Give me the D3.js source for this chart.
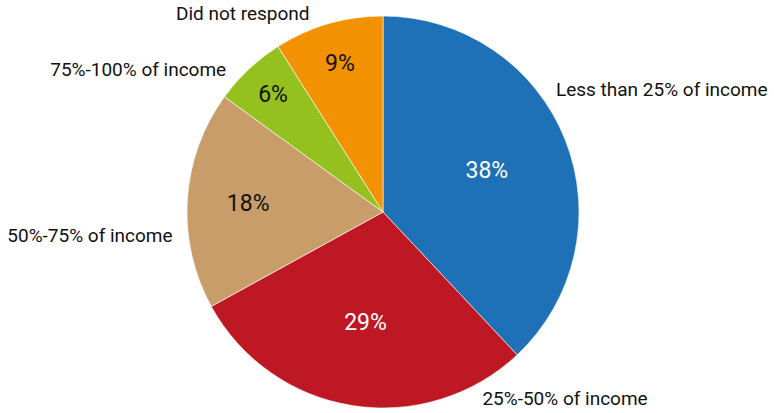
<!DOCTYPE html>
<html>
<head>
<meta charset="utf-8">
<script src="https://cdn.jsdelivr.net/npm/d3@7"></script>
<style>
  html, body { margin: 0; padding: 0; background: #fff; }
  svg { display: block; }
  text { font-family: Roboto, "Noto Sans", sans-serif; }
</style>
</head>
<body>
<svg id="chart" width="774" height="413"></svg>
<script>
// Data
const categories = ["Less than 25% of income", "25%-50% of income", "50%-75% of income", "75%-100% of income", "Did not respond"];
const values = [38, 29, 18, 6, 9];
const colors = ["#1E70B7", "#BE1824", "#C89D69", "#95C11F", "#F29200"];
const valueLabelColors = ["#ffffff", "#ffffff", "#111111", "#111111", "#111111"];
// Layout tweaks for outside category labels (degrees of rotation from slice middle)
const labelAngleNudge = [-13.6, -37, -9.9, -4.6, -4.1];

const width = 774, height = 413;
const cx = 383, cy = 212, r = 196;

const svg = d3.select("#chart");
const g = svg.append("g").attr("transform", `translate(${cx},${cy})`);

const pie = d3.pie().sort(null).value(d => d.value);
const data = categories.map((c, i) => ({ name: c, value: values[i], i }));
const arcs = pie(data);

const arc = d3.arc().innerRadius(0).outerRadius(r);

g.selectAll("path.slice")
  .data(arcs)
  .enter().append("path")
  .attr("class", "slice")
  .attr("d", arc)
  .attr("fill", d => colors[d.data.i])
  .attr("stroke", "#ffffff")
  .attr("stroke-width", 0.6);

// Value labels: pushed outward for narrow slices (best-fit style)
const fmt = d => d.data.value + "%";
g.selectAll("text.val")
  .data(arcs)
  .enter().append("text")
  .attr("class", "val")
  .each(function(d) {
    const mid = (d.startAngle + d.endAngle) / 2;
    const deg = (d.endAngle - d.startAngle) * 180 / Math.PI;
    const f = Math.max(0.57, 0.885 - 0.00302 * deg);
    const rr = r * f;
    d3.select(this)
      .attr("x", rr * Math.sin(mid))
      .attr("y", -rr * Math.cos(mid));
  })
  .attr("text-anchor", "middle")
  .attr("dominant-baseline", "central")
  .attr("font-size", 23)
  .attr("fill", d => valueLabelColors[d.data.i])
  .text(fmt);

// Category labels outside
const R = r * 1.08;
g.selectAll("text.cat")
  .data(arcs)
  .enter().append("text")
  .attr("class", "cat")
  .each(function(d) {
    const mid = (d.startAngle + d.endAngle) / 2 + labelAngleNudge[d.data.i] * Math.PI / 180;
    const x = R * Math.sin(mid), y = -R * Math.cos(mid);
    d3.select(this)
      .attr("x", x)
      .attr("y", y)
      .attr("text-anchor", Math.sin(mid) >= 0 ? "start" : "end");
  })
  .attr("dominant-baseline", "central")
  .attr("font-size", 19)
  .attr("fill", "#111111")
  .text(d => d.data.name);
</script>
</body>
</html>
